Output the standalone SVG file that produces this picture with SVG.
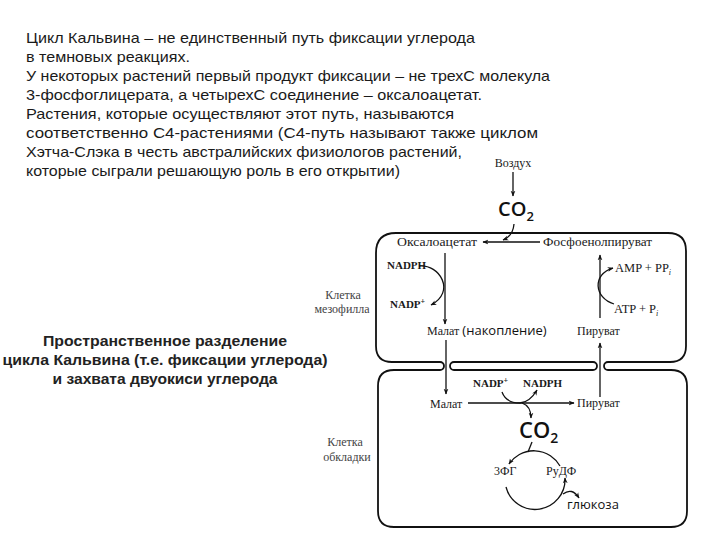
<svg xmlns="http://www.w3.org/2000/svg" width="720" height="540" viewBox="0 0 720 540">
<defs>
<marker id="ah" viewBox="0 0 10 10" refX="9" refY="5" markerWidth="6" markerHeight="6" orient="auto-start-reverse" markerUnits="userSpaceOnUse">
<path d="M0,1 L10,5 L0,9 L3,5 Z" fill="#111"/>
</marker>
<style>
.para{font-family:"Liberation Sans",Arial,sans-serif;font-size:15px;fill:#1a1a1a}
.bold{font-family:"Liberation Sans",Arial,sans-serif;font-size:14px;font-weight:bold;fill:#222;text-anchor:middle}
.lab{font-family:"Liberation Serif","Times New Roman",serif;font-size:12px;fill:#1a1a1a}
.nad{font-family:"Liberation Serif","Times New Roman",serif;font-size:11px;font-weight:bold;fill:#1a1a1a}
.eq{font-family:"Liberation Serif","Times New Roman",serif;font-size:12.5px;fill:#1a1a1a}
.side{font-family:"Liberation Serif","Times New Roman",serif;font-size:12px;fill:#444;text-anchor:middle}
.sans{font-family:"Open Sans","Liberation Sans",sans-serif;fill:#111}
.co2{font-family:"Open Sans","Liberation Sans",sans-serif;font-weight:600;fill:#111}
.wall{fill:none;stroke:#111;stroke-width:1.8}
.ln{fill:none;stroke:#111;stroke-width:1.3}
.arr{fill:none;stroke:#111;stroke-width:1.3;marker-end:url(#ah)}
</style>
</defs>

<g id="intro-text">
<text class="para" x="26" y="43" textLength="449" lengthAdjust="spacingAndGlyphs">Цикл Кальвина – не единственный путь фиксации углерода</text>
<text class="para" x="26" y="62" textLength="164" lengthAdjust="spacingAndGlyphs">в темновых реакциях.</text>
<text class="para" x="26" y="81" textLength="524" lengthAdjust="spacingAndGlyphs">У некоторых растений первый продукт фиксации – не трехС молекула</text>
<text class="para" x="26" y="100" textLength="456" lengthAdjust="spacingAndGlyphs">3-фосфоглицерата, а четырехС соединение – оксалоацетат.</text>
<text class="para" x="26" y="119" textLength="428" lengthAdjust="spacingAndGlyphs">Растения, которые осуществляют этот путь, называются</text>
<text class="para" x="26" y="138" textLength="512" lengthAdjust="spacingAndGlyphs">соответственно С4-растениями (С4-путь называют также циклом</text>
<text class="para" x="26" y="157" textLength="436" lengthAdjust="spacingAndGlyphs">Хэтча-Слэка в честь австралийских физиологов растений,</text>
<text class="para" x="26" y="176" textLength="374" lengthAdjust="spacingAndGlyphs">которые сыграли решающую роль в его открытии)</text>
</g>

<g id="caption">
<text class="bold" x="165" y="346" textLength="244" lengthAdjust="spacingAndGlyphs">Пространственное разделение</text>
<text class="bold" x="165" y="365" textLength="325" lengthAdjust="spacingAndGlyphs">цикла Кальвина (т.е. фиксации углерода)</text>
<text class="bold" x="165" y="384" textLength="225" lengthAdjust="spacingAndGlyphs">и захвата двуокиси углерода</text>
</g>

<g id="cells">
<path class="wall" d="M608,362 L670,362 Q686,362 686,346 L686,251 Q686,233 668,233 L396,233 Q376,233 376,253 L376,346 Q376,362 392,362 L440,362 A4,4 0 0 1 440,370 L394,370 Q378,370 378,386 L378,511 Q378,527 394,527 L671,527 Q687,527 687,511 L687,386 Q687,370 671,370 L608,370 A4,4 0 0 1 608,362 Z"/>
<path class="wall" d="M454,362 L593,362 A4,4 0 0 1 593,370 L454,370 A4,4 0 0 1 454,362 Z"/>
</g>

<g id="labels-cells">
<text class="side" x="343" y="299">Клетка</text>
<text class="side" x="342" y="313">мезофилла</text>
<text class="side" x="345" y="446">Клетка</text>
<text class="side" x="347" y="461">обкладки</text>
</g>

<g id="air">
<text class="lab" x="513" y="167" text-anchor="middle">Воздух</text>
</g>
<g id="co2-top">
<text class="co2" x="498" y="216" font-size="20">CO<tspan font-size="13" dy="5">2</tspan></text>
</g>
<g id="oxaloacetate"><text class="lab" x="397" y="246" textLength="80" lengthAdjust="spacingAndGlyphs">Оксалоацетат</text></g>
<g id="pep"><text class="lab" x="543" y="246" textLength="109" lengthAdjust="spacingAndGlyphs">Фосфоенолпируват</text></g>
<g id="nadph-top"><text class="nad" x="387" y="269">NADPH</text></g>
<g id="nadp-top"><text class="nad" x="390" y="308">NADP<tspan font-size="8" dy="-4">+</tspan></text></g>
<g id="malate-top"><text x="427" y="335"><tspan class="lab" font-size="13">Малат </tspan><tspan class="sans" font-size="13">(накопление)</tspan></text></g>
<g id="pyruvate-top"><text class="lab" x="577" y="335">Пируват</text></g>
<g id="amp"><text class="eq" x="615" y="272">AMP + PP<tspan style="font-size:8px;font-style:italic" dy="3">i</tspan></text></g>
<g id="atp"><text class="eq" x="614" y="313">ATP + P<tspan style="font-size:8px;font-style:italic" dy="3">i</tspan></text></g>

<g id="malate-bottom"><text class="lab" x="430" y="408">Малат</text></g>
<g id="pyruvate-bottom"><text class="lab" x="577" y="407">Пируват</text></g>
<g id="nadp-bottom"><text class="nad" x="473" y="387">NADP<tspan font-size="8" dy="-4">+</tspan></text></g>
<g id="nadph-bottom"><text class="nad" x="523" y="387">NADPH</text></g>
<g id="co2-bottom"><text class="co2" x="519" y="438" font-size="22">CO<tspan font-size="14" dy="5">2</tspan></text></g>
<g id="pga"><text class="lab" x="494" y="475" font-size="11">3ФГ</text></g>
<g id="rudp"><text class="lab" x="546" y="475">РуДФ</text></g>
<g id="glucose"><text class="sans" x="567" y="509" font-size="13">глюкоза</text></g>

<g id="connectors">
<path class="arr" d="M513,172 L513,196"/>
<path class="arr" d="M514,224 Q513,236 503,240"/>
<path class="arr" d="M540,242 L483,242"/>
<path class="arr" d="M445,253 L445,324"/>
<path class="arr" d="M419,266 C440,264 456,292 431,305"/>
<path class="arr" d="M446,340 L446,394"/>
<path class="arr" d="M600,318 L600,255"/>
<path class="arr" d="M614,304 C594,298 592,274 613,268"/>
<path class="arr" d="M600,397 L600,343"/>
<path class="arr" d="M468,403 L574,403"/>
<path class="arr" d="M502,392 Q506,403 520,403 Q530,402 537,390"/>
<path class="arr" d="M522,403 Q531,406 531,418"/>
<path class="ln" d="M532,442 L528,452"/>
<path class="arr" d="M560,466 A30,30 0 0 0 509,464"/>
<path class="arr" d="M506,487 A30,30 0 0 0 565,478"/>
<path class="arr" d="M563,494 Q572,487 579,498"/>
</g>
</svg>
